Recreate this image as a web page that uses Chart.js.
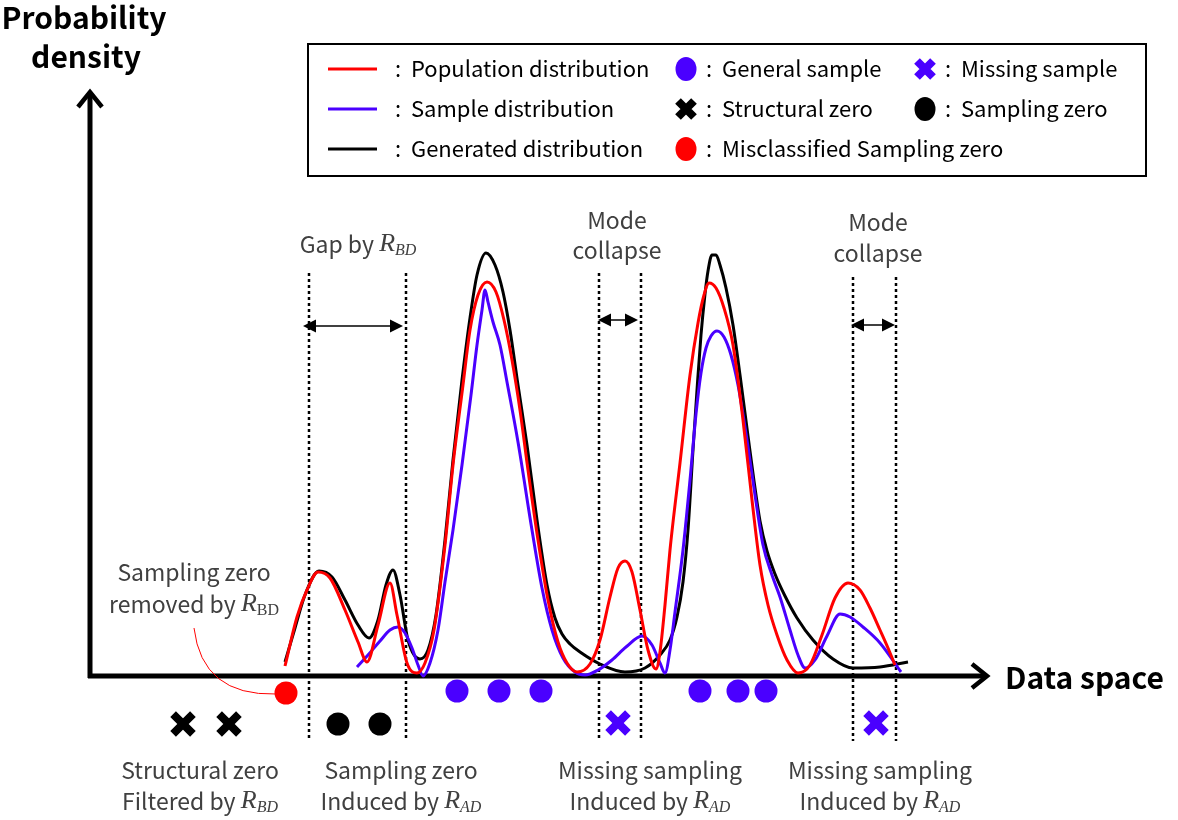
<!DOCTYPE html>
<html>
<head>
<meta charset="utf-8">
<script src="https://cdn.jsdelivr.net/npm/chart.js@4/dist/chart.umd.min.js"></script>
<style>
  body{ margin:0; background:#fff; }
  #box{ width:1178px; height:820px; }
</style>
</head>
<body>
<div id="box"><canvas id="c"></canvas></div>
<script>

// curves: [data space, density]
const populationCurve = [
  [195,10],[207,59],[217,86],[228,104],[240,98],[255,66],[268,34],[277,14],[288,51],[300,93],
  [307,61],[317,13],[327,3],[335,13],[344,46],[355,131],[363,211],[373,291],[380,346],[388,381],
  [397,394],[406,384],[414,356],[422,316],[430,266],[438,206],[448,136],[458,76],[468,34],[477,13],
  [487,4],[500,12],[510,36],[520,79],[528,108],[535,115],[542,104],[550,66],[558,26],[566,7],
  [570,24],[575,71],[580,126],[590,213],[600,301],[608,353],[614,381],[619,393],[626,388],[634,368],
  [643,331],[653,256],[662,176],[670,111],[678,71],[687,41],[697,16],[708,3],[720,11],[732,41],
  [745,78],[758,93],[770,86],[780,68],[790,46],[798,28],[805,11]
]
const sampleCurve = [
  [267,9],[278,21],[290,35],[300,46],[308,49],[315,43],[322,28],[328,11],[333,0],[340,13],
  [348,46],[355,94],[363,146],[372,211],[381,281],[387,331],[392,366],[395,386],[398,374],[403,354],
  [410,331],[417,294],[428,234],[442,146],[452,88],[462,46],[473,18],[485,4],[495,1],[508,6],
  [522,16],[536,29],[552,40],[562,31],[570,13],[575,3],[580,26],[585,64],[593,126],[600,196],
  [606,262],[611,303],[616,328],[621,340],[627,345],[634,339],[641,321],[648,291],[657,236],[665,181],
  [673,131],[682,101],[690,79],[700,46],[708,21],[715,8],[725,16],[737,40],[750,62],[760,59],
  [773,49],[790,33],[811,4]
]
const generatedCurve = [
  [195,14],[205,48],[215,81],[229,105],[242,99],[255,76],[268,51],[279,38],[288,56],[296,91],
  [303,106],[310,81],[318,36],[330,17],[338,26],[346,61],[355,136],[363,216],[372,296],[380,358],
  [387,401],[396,423],[405,411],[413,384],[420,346],[428,291],[437,231],[447,156],[457,91],[465,58],
  [472,42],[480,32],[490,24],[510,12],[535,4],[555,8],[570,21],[580,36],[587,59],[593,94],
  [598,146],[603,226],[607,286],[611,341],[615,382],[618,405],[622,421],[626,421],[630,411],[636,388],
  [643,351],[650,301],[658,240],[664,195],[670,155],[677,125],[685,102],[695,80],[707,58],[723,36],
  [743,17],[763,8],[790,9],[818,14]
]

// samples under the axis
const generalSamples      = [[367,-15],[409,-15],[451,-15],[610,-15],[648,-15],[676,-15]]
const missingSamples      = [[528,-47],[786,-47]]
const structuralZeros     = [[93,-48],[139,-48]]
const samplingZeros       = [[248,-48],[290,-48]]
const misclassifiedZeros  = [[196,-17]]

// dotted boundaries and gap arrows
const boundaryX   = [219,316,509,551,763,806]
const boundaryTop = [403,403,403,403,399,399]
const boundaryBottom = -65
const gapArrows = [ {from:213,to:313,y:350}, {from:508,to:548,y:356}, {from:761,to:805,y:351} ]

const RED   = '#ff0000'
const BLUE  = '#4a00ff'
const BLACK = '#000000'
const GRAY  = '#404040'
const SANS  = '"Noto Sans CJK KR", "Noto Sans", sans-serif'
const MATH  = '"Liberation Serif", serif'

const toXY = arr => arr.map(p => ({x:p[0], y:p[1]}))

function curve(label, data, color){
  return { type:'line', label:label, data:toXY(data), borderColor:color, borderWidth:3,
           pointRadius:0, fill:false, cubicInterpolationMode:'monotone' }
}
function marks(label, data, color, style){
  const cross = style === 'crossRot'
  return { type:'scatter', label:label, data:toXY(data), pointStyle:style,
           pointRadius: cross ? 14 : 11.5, borderWidth: cross ? 8 : 0,
           backgroundColor:color, borderColor:color, showLine:false }
}

// rich text with R subscripts
function R(sub, upright){
  return [ {t:'R', font:'italic 26px ' + MATH},
           {t:sub, font:(upright ? '' : 'italic ') + '16px ' + MATH, dy:7} ]
}
function plain(t, font){ return [{t:t, font: font || ('23px ' + SANS)}] }
const legendFont = '22px ' + SANS

const annotations = [
  { x:268, y:432, lines:[ plain('Gap by ').concat(R('BD')) ] },
  { x:527, y:456, lines:[ plain('Mode') ] },
  { x:527, y:426, lines:[ plain('collapse') ] },
  { x:788, y:454, lines:[ plain('Mode') ] },
  { x:788, y:423, lines:[ plain('collapse') ] },
  { x:104, y:104, lines:[ plain('Sampling zero') ] },
  { x:104, y:72,  lines:[ plain('removed by ').concat(R('BD', true)) ] },
  { x:110, y:-94, lines:[ plain('Structural zero') ] },
  { x:110, y:-125,lines:[ plain('Filtered by ').concat(R('BD')) ] },
  { x:311, y:-94, lines:[ plain('Sampling zero') ] },
  { x:311, y:-125,lines:[ plain('Induced by ').concat(R('AD')) ] },
  { x:560, y:-94, lines:[ plain('Missing sampling') ] },
  { x:560, y:-125,lines:[ plain('Induced by ').concat(R('AD')) ] },
  { x:790, y:-94, lines:[ plain('Missing sampling') ] },
  { x:790, y:-125,lines:[ plain('Induced by ').concat(R('AD')) ] },
]

function drawRich(ctx, parts, cx, cy, color, align){
  ctx.textBaseline = 'middle'
  ctx.textAlign = 'left'
  ctx.fillStyle = color
  let w = 0
  parts.forEach(p => { ctx.font = p.font; w += ctx.measureText(p.t).width })
  let x = align === 'left' ? cx : cx - w/2
  parts.forEach(p => {
    ctx.font = p.font
    ctx.fillText(p.t, x, cy + (p.dy || 0))
    x += ctx.measureText(p.t).width
  })
}

function arrowHead(ctx, x, y, dir){
  ctx.beginPath()
  ctx.moveTo(x, y)
  ctx.lineTo(x - dir*13, y - 6.5)
  ctx.lineTo(x - dir*13, y + 6.5)
  ctx.closePath()
  ctx.fill()
}

function drawX(ctx, x, y, r, color){
  ctx.save()
  ctx.strokeStyle = color; ctx.lineWidth = 8
  ctx.beginPath()
  ctx.moveTo(x-r, y-r); ctx.lineTo(x+r, y+r)
  ctx.moveTo(x+r, y-r); ctx.lineTo(x-r, y+r)
  ctx.stroke()
  ctx.restore()
}
function drawDot(ctx, x, y, color){
  ctx.save()
  ctx.fillStyle = color
  ctx.beginPath(); ctx.ellipse(x, y, 10.5, 12, 0, 0, Math.PI*2); ctx.fill()
  ctx.restore()
}

const diagramPlugin = {
  id:'diagram',
  beforeDatasetsDraw(chart){
    const ctx = chart.ctx, sx = chart.scales.x, sy = chart.scales.y
    ctx.save()
    // dotted boundaries
    ctx.strokeStyle = BLACK; ctx.lineWidth = 2.5; ctx.setLineDash([3,3])
    boundaryX.forEach((bx,i) => {
      ctx.beginPath()
      ctx.moveTo(sx.getPixelForValue(bx), sy.getPixelForValue(boundaryTop[i]))
      ctx.lineTo(sx.getPixelForValue(bx), sy.getPixelForValue(boundaryBottom))
      ctx.stroke()
    })
    ctx.setLineDash([])
    // axes
    const x0 = sx.getPixelForValue(0), y0 = sy.getPixelForValue(0)
    const xEnd = sx.getPixelForValue(897), yEnd = sy.getPixelForValue(584)
    ctx.lineWidth = 5; ctx.lineCap = 'butt'
    ctx.beginPath()
    ctx.moveTo(x0 - 2, y0); ctx.lineTo(xEnd - 2, y0)
    ctx.moveTo(x0, y0 + 2); ctx.lineTo(x0, yEnd + 2)
    ctx.stroke()
    ctx.lineWidth = 4.5; ctx.lineJoin = 'miter'
    ctx.beginPath()
    ctx.moveTo(xEnd - 15, y0 - 12); ctx.lineTo(xEnd, y0); ctx.lineTo(xEnd - 15, y0 + 12)
    ctx.moveTo(x0 - 12, yEnd + 15); ctx.lineTo(x0, yEnd); ctx.lineTo(x0 + 12, yEnd + 15)
    ctx.stroke()
    ctx.restore()
  },
  afterDatasetsDraw(chart){
    const ctx = chart.ctx, sx = chart.scales.x, sy = chart.scales.y
    ctx.save()
    // gap arrows
    ctx.strokeStyle = BLACK; ctx.fillStyle = BLACK; ctx.lineWidth = 1.5
    gapArrows.forEach(a => {
      const l = sx.getPixelForValue(a.from), r = sx.getPixelForValue(a.to), y = sy.getPixelForValue(a.y)
      ctx.beginPath(); ctx.moveTo(l + 6, y); ctx.lineTo(r - 6, y); ctx.stroke()
      arrowHead(ctx, l, y, -1); arrowHead(ctx, r, y, 1)
    })
    // connector to misclassified sampling zero
    ctx.strokeStyle = RED; ctx.lineWidth = 1
    ctx.beginPath()
    ctx.moveTo(sx.getPixelForValue(104), sy.getPixelForValue(48))
    ctx.quadraticCurveTo(sx.getPixelForValue(112), sy.getPixelForValue(-20), sx.getPixelForValue(186), sy.getPixelForValue(-18))
    ctx.stroke()

    // annotations
    annotations.forEach(a => {
      a.lines.forEach(parts => drawRich(ctx, parts, sx.getPixelForValue(a.x), sy.getPixelForValue(a.y), GRAY))
    })

    // axis titles
    const bold = 'bold 30px ' + SANS
    drawRich(ctx, plain('Probability', bold), sx.getPixelForValue(-6), sy.getPixelForValue(658), BLACK)
    drawRich(ctx, plain('density', bold), sx.getPixelForValue(-4), sy.getPixelForValue(619), BLACK)
    drawRich(ctx, plain('Data space', bold), sx.getPixelForValue(915), sy.getPixelForValue(-2), BLACK, 'left')

    // legend box
    const L = 308, T = 44, W = 838, H = 132
    ctx.strokeStyle = BLACK; ctx.lineWidth = 2
    ctx.strokeRect(L, T, W, H)
    const rows = [69, 109, 149]
    const lineItems = [ ['Population distribution', RED], ['Sample distribution', BLUE], ['Generated distribution', BLACK] ]
    lineItems.forEach((it, i) => {
      ctx.strokeStyle = it[1]; ctx.lineWidth = 3
      ctx.beginPath(); ctx.moveTo(328, rows[i]); ctx.lineTo(377, rows[i]); ctx.stroke()
      drawRich(ctx, plain(':  ' + it[0], legendFont), 395, rows[i], BLACK, 'left')
    })
    drawDot(ctx, 686, rows[0], BLUE)
    drawRich(ctx, plain(':  General sample', legendFont), 706, rows[0], BLACK, 'left')
    drawX(ctx, 925, rows[0], 8, BLUE)
    drawRich(ctx, plain(':  Missing sample', legendFont), 945, rows[0], BLACK, 'left')
    drawX(ctx, 686, rows[1], 8, BLACK)
    drawRich(ctx, plain(':  Structural zero', legendFont), 706, rows[1], BLACK, 'left')
    drawDot(ctx, 925, rows[1], BLACK)
    drawRich(ctx, plain(':  Sampling zero', legendFont), 945, rows[1], BLACK, 'left')
    drawDot(ctx, 686, rows[2], RED)
    drawRich(ctx, plain(':  Misclassified Sampling zero', legendFont), 706, rows[2], BLACK, 'left')
    ctx.restore()
  }
}

new Chart(document.getElementById('c'), {
  data: {
    datasets: [
      curve('Population distribution', populationCurve, RED),
      curve('Sample distribution', sampleCurve, BLUE),
      curve('Generated distribution', generatedCurve, BLACK),
      marks('General sample', generalSamples, BLUE, 'circle'),
      marks('Missing sample', missingSamples, BLUE, 'crossRot'),
      marks('Structural zero', structuralZeros, BLACK, 'crossRot'),
      marks('Sampling zero', samplingZeros, BLACK, 'circle'),
      marks('Misclassified Sampling zero', misclassifiedZeros, RED, 'circle'),
    ]
  },
  options: {
    responsive: true,
    maintainAspectRatio: false,
    animation: false,
    layout: { padding: 0, autoPadding: false },
    plugins: { legend: { display:false }, tooltip: { enabled:false } },
    scales: {
      x: { type:'linear', display:false, min:-90, max:1088 },
      y: { type:'linear', display:false, min:-144, max:676 }
    }
  },
  plugins: [diagramPlugin]
})
</script>
</body>
</html>
